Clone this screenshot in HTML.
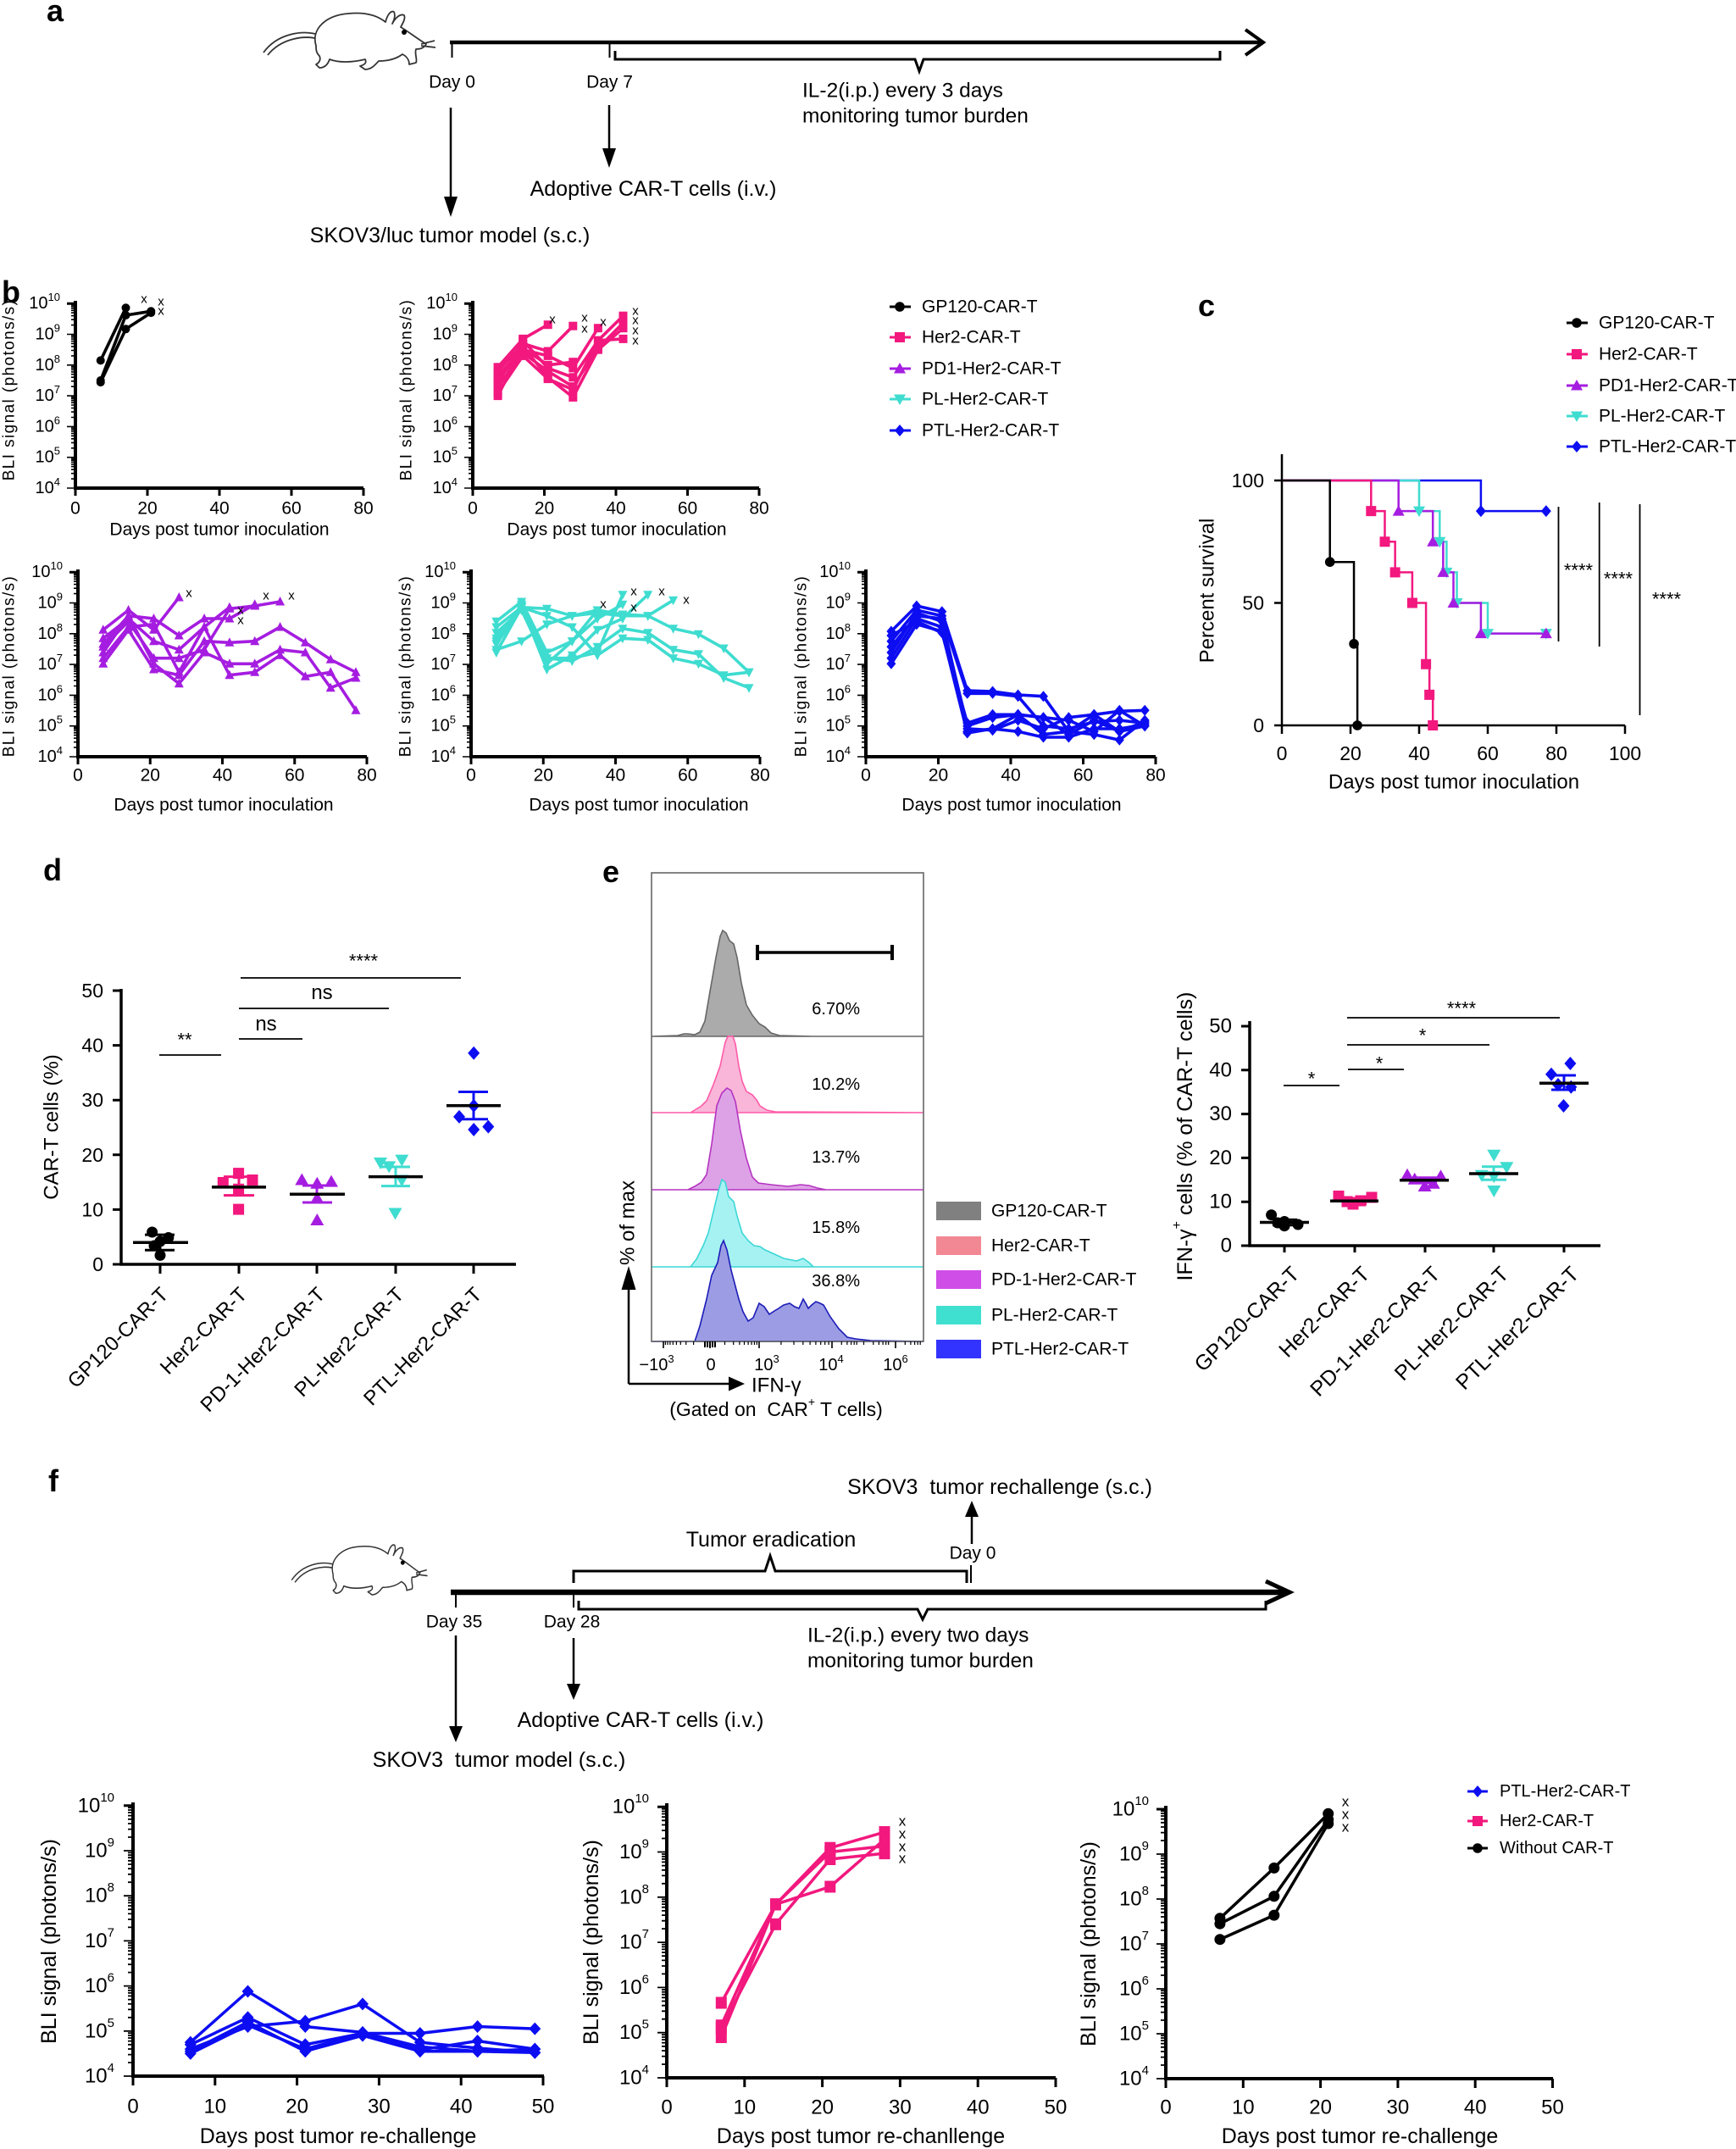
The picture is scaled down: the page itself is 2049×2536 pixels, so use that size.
<!DOCTYPE html>
<html><head><meta charset="utf-8"><style>
html,body{margin:0;padding:0;background:#fff;}
svg{display:block;}
text{font-family:"Liberation Sans",Arial,sans-serif;fill:#000;}
</style></head><body>
<svg width="2049" height="2536" viewBox="0 0 2049 2536" xmlns="http://www.w3.org/2000/svg">
<defs>
<marker id="mkCs" markerUnits="userSpaceOnUse" markerWidth="12" markerHeight="12" viewBox="0 0 12 12" refX="6" refY="6" overflow="visible"><circle cx="6" cy="6" r="5" fill="#000"/></marker>
<marker id="mkSs" markerUnits="userSpaceOnUse" markerWidth="12" markerHeight="12" viewBox="0 0 12 12" refX="6" refY="6" overflow="visible"><rect x="1" y="1" width="10" height="10" fill="#f2187e"/></marker>
<marker id="mkTUs" markerUnits="userSpaceOnUse" markerWidth="12" markerHeight="12" viewBox="0 0 12 12" refX="6" refY="6" overflow="visible"><path d="M6,0 L11.5,10.5 L0.5,10.5Z" fill="#a51de0"/></marker>
<marker id="mkTDs" markerUnits="userSpaceOnUse" markerWidth="12" markerHeight="12" viewBox="0 0 12 12" refX="6" refY="6" overflow="visible"><path d="M6,12 L11.5,1.5 L0.5,1.5Z" fill="#3fdcd0"/></marker>
<marker id="mkDs" markerUnits="userSpaceOnUse" markerWidth="12" markerHeight="12" viewBox="0 0 12 12" refX="6" refY="6" overflow="visible"><path d="M6,-0.5 L11.5,6 L6,12.5 L0.5,6Z" fill="#0d0df2"/></marker>
<marker id="mkCl" markerUnits="userSpaceOnUse" markerWidth="16" markerHeight="16" viewBox="0 0 16 16" refX="8" refY="8" overflow="visible"><circle cx="8" cy="8" r="6.5" fill="#000"/></marker>
<marker id="mkSl" markerUnits="userSpaceOnUse" markerWidth="16" markerHeight="16" viewBox="0 0 16 16" refX="8" refY="8" overflow="visible"><rect x="1.5" y="1" width="13" height="14" fill="#f2187e"/></marker>
<marker id="mkDl" markerUnits="userSpaceOnUse" markerWidth="16" markerHeight="16" viewBox="0 0 16 16" refX="8" refY="8" overflow="visible"><path d="M8,0.5 L15,8 L8,15.5 L1,8Z" fill="#0d0df2"/></marker>

<g id="cM"><circle r="5.8"/></g>
<g id="sM"><rect x="-6" y="-6" width="12" height="12"/></g>
<g id="tuM"><path d="M0,-7 L7,5.5 L-7,5.5Z"/></g>
<g id="tdM"><path d="M0,7 L7,-5.5 L-7,-5.5Z"/></g>
<g id="dM"><path d="M0,-7 L6,0 L0,7 L-6,0Z"/></g>
<g id="cL"><circle r="6.5"/></g>
<g id="sL"><rect x="-6.5" y="-6.5" width="13" height="13"/></g>
<g id="tuL"><path d="M0,-8 L8,6 L-8,6Z"/></g>
<g id="tdL"><path d="M0,8 L8,-6 L-8,-6Z"/></g>
<g id="dL"><path d="M0,-8 L7,0 L0,8 L-7,0Z"/></g>

<g id="decB"><path d="M-5,-10.9H0M-5,-17.3H0M-5,-21.9H0M-5,-25.4H0M-5,-28.2H0M-5,-30.7H0M-5,-32.8H0M-5,-34.6H0M-10,0H0" stroke="#000" stroke-width="1.6" fill="none"/></g>
<g id="decF"><path d="M-6,-16H0M-6,-25.4H0M-6,-32H0M-6,-37.2H0M-6,-41.4H0M-6,-45H0M-6,-48H0M-6,-50.8H0M-11,0H0" stroke="#000" stroke-width="1.8" fill="none"/></g>

<g id="mouse" fill="#fff" stroke="#333" stroke-width="1.8" stroke-linejoin="round">
<path d="M72,32 C50,24 20,30 4,52 M72,37 C52,30 24,36 9,55" fill="none"/>
<path d="M66,44 C60,24 78,8 104,6 C124,4 138,8 148,16 C150,8 154,2 158,4 C160,8 158,14 156,18 C160,10 166,6 170,8 C172,12 168,18 166,22 C176,28 186,36 196,42 C194,46 190,48 184,48 C182,54 186,60 184,64 L176,66 C176,60 172,56 168,54 C160,60 150,62 140,62 C136,66 132,72 124,72 L118,68 C124,66 126,64 124,60 C108,64 92,64 82,60 C80,66 76,70 70,70 L66,66 C70,64 72,60 70,56 C66,52 66,48 66,44 Z"/>
<circle cx="170" cy="28" r="3" fill="#000" stroke="none"/>
<path d="M190,42 L206,38 M190,44 L207,46" fill="none"/>
</g>
</defs>
<rect width="2049" height="2536" fill="#fff"/>

<!-- ================= PANEL A ================= -->
<text x="55" y="25" font-size="36" font-weight="bold">a</text>
<use href="#mouse" transform="translate(307,10)"/>
<line x1="531" y1="50" x2="1490" y2="50" stroke="#000" stroke-width="4.5"/>
<path d="M1470,35 L1491,50 L1470,65" fill="none" stroke="#000" stroke-width="4"/>
<path d="M533.5,50V68 M719.5,50V68" stroke="#000" stroke-width="2"/>
<path d="M726,60 V70 H1080 L1085,84 L1090,70 H1440 V60" fill="none" stroke="#000" stroke-width="3"/>
<g font-size="21" text-anchor="middle" dominant-baseline="central">
<text x="533.5" y="97">Day 0</text>
<text x="719.5" y="97">Day 7</text>
</g>
<g font-size="24.5" dominant-baseline="central">
<text x="947" y="107">IL-2(i.p.) every 3 days</text>
<text x="947" y="137">monitoring tumor burden</text>
</g>
<line x1="532" y1="127" x2="532" y2="236" stroke="#000" stroke-width="2.5"/>
<path d="M524,232 L540,232 L532,256Z" fill="#000"/>
<line x1="719" y1="124" x2="719" y2="178" stroke="#000" stroke-width="2.5"/>
<path d="M711,175 L727,175 L719,198Z" fill="#000"/>
<g font-size="25" text-anchor="middle" dominant-baseline="central">
<text x="771" y="223">Adoptive CAR-T cells (i.v.)</text>
<text x="531" y="278">SKOV3/luc tumor model (s.c.)</text>
</g>

<!-- ================= PANEL B ================= -->
<text x="2" y="357" font-size="36" font-weight="bold">b</text>

<g fill="none" stroke="#000" stroke-width="4">
<path d="M89,355 V576 H429"/>
<path d="M558,355 V576 H896"/>
<path d="M92,672 V893 H433"/>
<path d="M556,672 V893 H897"/>
<path d="M1022,672 V893 H1364"/>
</g>
<g stroke="#000" stroke-width="3">
<path d="M89,576V585M174,576V585M259,576V585M344,576V585M429,576V585"/>
<path d="M558,576V585M642.5,576V585M727,576V585M811.5,576V585M896,576V585"/>
<path d="M92,893V902M177.25,893V902M262.5,893V902M347.75,893V902M433,893V902"/>
<path d="M556,893V902M641.25,893V902M726.5,893V902M811.75,893V902M897,893V902"/>
<path d="M1022,893V902M1107.5,893V902M1193,893V902M1278.5,893V902M1364,893V902"/>
<path d="M79,358.2H89M548,358.2H558M82,675.2H92M546,675.2H556M1012,675.2H1022"/>
</g>
<use href="#decB" x="89" y="576"/><use href="#decB" x="89" y="539.7"/><use href="#decB" x="89" y="503.4"/><use href="#decB" x="89" y="467.1"/><use href="#decB" x="89" y="430.8"/><use href="#decB" x="89" y="394.5"/>
<use href="#decB" x="558" y="576"/><use href="#decB" x="558" y="539.7"/><use href="#decB" x="558" y="503.4"/><use href="#decB" x="558" y="467.1"/><use href="#decB" x="558" y="430.8"/><use href="#decB" x="558" y="394.5"/>
<use href="#decB" x="92" y="893"/><use href="#decB" x="92" y="856.7"/><use href="#decB" x="92" y="820.4"/><use href="#decB" x="92" y="784.1"/><use href="#decB" x="92" y="747.8"/><use href="#decB" x="92" y="711.5"/>
<use href="#decB" x="556" y="893"/><use href="#decB" x="556" y="856.7"/><use href="#decB" x="556" y="820.4"/><use href="#decB" x="556" y="784.1"/><use href="#decB" x="556" y="747.8"/><use href="#decB" x="556" y="711.5"/>
<use href="#decB" x="1022" y="893"/><use href="#decB" x="1022" y="856.7"/><use href="#decB" x="1022" y="820.4"/><use href="#decB" x="1022" y="784.1"/><use href="#decB" x="1022" y="747.8"/><use href="#decB" x="1022" y="711.5"/>

<g font-size="20" text-anchor="end" dominant-baseline="central">
<text x="71" y="358.2">10<tspan font-size="13" dy="-8">10</tspan></text>
<text x="71" y="394.5">10<tspan font-size="13" dy="-8">9</tspan></text>
<text x="71" y="430.8">10<tspan font-size="13" dy="-8">8</tspan></text>
<text x="71" y="467.1">10<tspan font-size="13" dy="-8">7</tspan></text>
<text x="71" y="503.4">10<tspan font-size="13" dy="-8">6</tspan></text>
<text x="71" y="539.7">10<tspan font-size="13" dy="-8">5</tspan></text>
<text x="71" y="576">10<tspan font-size="13" dy="-8">4</tspan></text>
<text x="540" y="358.2">10<tspan font-size="13" dy="-8">10</tspan></text>
<text x="540" y="394.5">10<tspan font-size="13" dy="-8">9</tspan></text>
<text x="540" y="430.8">10<tspan font-size="13" dy="-8">8</tspan></text>
<text x="540" y="467.1">10<tspan font-size="13" dy="-8">7</tspan></text>
<text x="540" y="503.4">10<tspan font-size="13" dy="-8">6</tspan></text>
<text x="540" y="539.7">10<tspan font-size="13" dy="-8">5</tspan></text>
<text x="540" y="576">10<tspan font-size="13" dy="-8">4</tspan></text>
<text x="74" y="675.2">10<tspan font-size="13" dy="-8">10</tspan></text>
<text x="74" y="711.5">10<tspan font-size="13" dy="-8">9</tspan></text>
<text x="74" y="747.8">10<tspan font-size="13" dy="-8">8</tspan></text>
<text x="74" y="784.1">10<tspan font-size="13" dy="-8">7</tspan></text>
<text x="74" y="820.4">10<tspan font-size="13" dy="-8">6</tspan></text>
<text x="74" y="856.7">10<tspan font-size="13" dy="-8">5</tspan></text>
<text x="74" y="893">10<tspan font-size="13" dy="-8">4</tspan></text>
<text x="538" y="675.2">10<tspan font-size="13" dy="-8">10</tspan></text>
<text x="538" y="711.5">10<tspan font-size="13" dy="-8">9</tspan></text>
<text x="538" y="747.8">10<tspan font-size="13" dy="-8">8</tspan></text>
<text x="538" y="784.1">10<tspan font-size="13" dy="-8">7</tspan></text>
<text x="538" y="820.4">10<tspan font-size="13" dy="-8">6</tspan></text>
<text x="538" y="856.7">10<tspan font-size="13" dy="-8">5</tspan></text>
<text x="538" y="893">10<tspan font-size="13" dy="-8">4</tspan></text>
<text x="1004" y="675.2">10<tspan font-size="13" dy="-8">10</tspan></text>
<text x="1004" y="711.5">10<tspan font-size="13" dy="-8">9</tspan></text>
<text x="1004" y="747.8">10<tspan font-size="13" dy="-8">8</tspan></text>
<text x="1004" y="784.1">10<tspan font-size="13" dy="-8">7</tspan></text>
<text x="1004" y="820.4">10<tspan font-size="13" dy="-8">6</tspan></text>
<text x="1004" y="856.7">10<tspan font-size="13" dy="-8">5</tspan></text>
<text x="1004" y="893">10<tspan font-size="13" dy="-8">4</tspan></text>
</g>
<g font-size="21" text-anchor="middle" dominant-baseline="central">
<text x="89" y="600">0</text><text x="174" y="600">20</text><text x="259" y="600">40</text><text x="344" y="600">60</text><text x="429" y="600">80</text>
<text x="558" y="600">0</text><text x="642.5" y="600">20</text><text x="727" y="600">40</text><text x="811.5" y="600">60</text><text x="896" y="600">80</text>
<text x="92" y="915">0</text><text x="177.25" y="915">20</text><text x="262.5" y="915">40</text><text x="347.75" y="915">60</text><text x="433" y="915">80</text>
<text x="556" y="915">0</text><text x="641.25" y="915">20</text><text x="726.5" y="915">40</text><text x="811.75" y="915">60</text><text x="897" y="915">80</text>
<text x="1022" y="915">0</text><text x="1107.5" y="915">20</text><text x="1193" y="915">40</text><text x="1278.5" y="915">60</text><text x="1364" y="915">80</text>
<text x="259" y="625">Days post tumor inoculation</text>
<text x="728" y="625">Days post tumor inoculation</text>
<text x="264" y="950">Days post tumor inoculation</text>
<text x="754" y="950">Days post tumor inoculation</text>
<text x="1194" y="950">Days post tumor inoculation</text>
</g>
<g font-size="19" letter-spacing="1.4" text-anchor="middle" dominant-baseline="central">
<text transform="translate(11,460) rotate(-90)">BLI signal (photons/s)</text>
<text transform="translate(480,460) rotate(-90)">BLI signal (photons/s)</text>
<text transform="translate(11,786) rotate(-90)">BLI signal (photons/s)</text>
<text transform="translate(479,786) rotate(-90)">BLI signal (photons/s)</text>
<text transform="translate(946,786) rotate(-90)">BLI signal (photons/s)</text>
</g>

<g fill="none" stroke="#000" stroke-width="3.6" stroke-linejoin="round" marker-start="url(#mkCs)" marker-mid="url(#mkCs)" marker-end="url(#mkCs)">
<polyline points="118.75,425.4 148.5,363.3"/>
<polyline points="118.75,449 148.5,372 178.25,367.3"/>
<polyline points="118.75,451.1 148.5,388.3 178.25,369.1"/>
</g>
<g fill="none" stroke="#f2187e" stroke-width="3.6" stroke-linejoin="round" marker-start="url(#mkSs)" marker-mid="url(#mkSs)" marker-end="url(#mkSs)">
<polyline points="587.6,433.3 617.2,399.9 646.7,383.2"/>
<polyline points="587.6,438.1 617.2,405.4 646.7,414.5 676.3,384.7"/>
<polyline points="587.6,443.5 617.2,410.8 646.7,430.8 676.3,427.2"/>
<polyline points="587.6,448.9 617.2,412.7 646.7,419.9 676.3,434.4 705.9,387.2"/>
<polyline points="587.6,452.6 617.2,401.8 646.7,434.4 676.3,445.3 705.9,401.8 735.5,372.7"/>
<polyline points="587.6,456.2 617.2,416.3 646.7,438.1 676.3,456.2 705.9,410.8 735.5,381.1"/>
<polyline points="587.6,467.1 617.2,409 646.7,445.3 676.3,468.9 705.9,412.7 735.5,387.2"/>
<polyline points="587.6,463.5 617.2,419.9 646.7,447.1 676.3,459.8 705.9,401.8 735.5,399.9"/>
</g>
<g fill="none" stroke="#a51de0" stroke-width="3.6" stroke-linejoin="round" marker-start="url(#mkTUs)" marker-mid="url(#mkTUs)" marker-end="url(#mkTUs)">
<polyline points="121.8,743.3 151.6,720 181.5,743.3 211.3,705"/>
<polyline points="121.8,753.3 151.6,730 181.5,756.7 211.3,766.7 241.1,740 270.9,716.7"/>
<polyline points="121.8,763.3 151.6,733.3 181.5,776.7 211.3,776.7 241.1,766.7 270.9,718.3 300.7,715 330.6,710"/>
<polyline points="121.8,760 151.6,726.7 181.5,730 211.3,750 241.1,730 270.9,730 300.7,713.3"/>
<polyline points="121.8,783.3 151.6,743.3 181.5,790 211.3,796.7 241.1,756.7 270.9,758.3 300.7,756.7 330.6,740 360.4,758.3 390.2,778.3 420,793.3"/>
<polyline points="121.8,770 151.6,726.7 181.5,783.3 211.3,806.7 241.1,770 270.9,783.3 300.7,783.3 330.6,766.7 360.4,770 390.2,811.7 420,800"/>
<polyline points="121.8,776.7 151.6,740 181.5,736.7 211.3,793.3 241.1,740 270.9,796.7 300.7,793.3 330.6,773.3 360.4,798.3 390.2,793.3 420,838.3"/>
</g>
<g fill="none" stroke="#3fdcd0" stroke-width="3.6" stroke-linejoin="round" marker-start="url(#mkTDs)" marker-mid="url(#mkTDs)" marker-end="url(#mkTDs)">
<polyline points="585.8,733.3 615.6,710 645.5,770 675.3,756.7 705.1,720"/>
<polyline points="585.8,740 615.6,716.7 645.5,776.7 675.3,776.7 705.1,770 734.9,701.7"/>
<polyline points="585.8,746.7 615.6,720 645.5,783.3 675.3,756.7 705.1,730 734.9,713.3"/>
<polyline points="585.8,753.3 615.6,715 645.5,790 675.3,773.3 705.1,743.3 734.9,730 764.7,701.7"/>
<polyline points="585.8,766.7 615.6,756.7 645.5,736.7 675.3,726.7 705.1,723.3 734.9,726.7 764.7,726.7 794.6,708.3"/>
<polyline points="585.8,760 615.6,716.7 645.5,718.3 675.3,726.7 705.1,720 734.9,725 764.7,726.7 794.6,741.7 824.4,748.3 854.2,765 884,793.3"/>
<polyline points="585.8,756.7 615.6,713.3 645.5,776.7 675.3,780 705.1,763.3 734.9,741.7 764.7,746.7 794.6,766.7 824.4,771.7 854.2,800 884,811.7"/>
<polyline points="585.8,770 615.6,716.7 645.5,726.7 675.3,740 705.1,773.3 734.9,753.3 764.7,755 794.6,776.7 824.4,783.3 854.2,796.7 884,793.3"/>
</g>
<g fill="none" stroke="#0d0df2" stroke-width="3.6" stroke-linejoin="round" marker-start="url(#mkDs)" marker-mid="url(#mkDs)" marker-end="url(#mkDs)">
<polyline points="1051.9,745 1081.9,715 1111.8,721.7 1141.7,815 1171.6,816 1201.6,820 1231.5,821.7 1261.4,863.3 1291.3,843.3 1321.3,839.3 1351.2,838.3"/>
<polyline points="1051.9,756.7 1081.9,720 1111.8,726.7 1141.7,818.3 1171.6,818.3 1201.6,821.7 1231.5,856.7 1261.4,860 1291.3,851.7 1321.3,850 1351.2,853.3"/>
<polyline points="1051.9,770 1081.9,723.3 1111.8,733.3 1141.7,856.7 1171.6,846.7 1201.6,843.3 1231.5,846.7 1261.4,850 1291.3,863.3 1321.3,838.3 1351.2,856.7"/>
<polyline points="1051.9,776.7 1081.9,730 1111.8,740 1141.7,863.3 1171.6,860 1201.6,863.3 1231.5,870 1261.4,870 1291.3,860 1321.3,860 1351.2,855"/>
<polyline points="1051.9,783.3 1081.9,736.7 1111.8,745 1141.7,865 1171.6,860 1201.6,843.3 1231.5,866.7 1261.4,863.3 1291.3,866.7 1321.3,873.3 1351.2,850"/>
<polyline points="1051.9,763.3 1081.9,726.7 1111.8,730 1141.7,860 1171.6,861.7 1201.6,850 1231.5,860 1261.4,846.7 1291.3,843.3 1321.3,863.3 1351.2,851.7"/>
<polyline points="1051.9,750 1081.9,733.3 1111.8,746.7 1141.7,853.3 1171.6,843.3 1201.6,843.3 1231.5,846.7 1261.4,866.7 1291.3,850 1321.3,863.3 1351.2,856.7"/>
</g>
<g font-size="15" text-anchor="middle" dominant-baseline="central">
<text x="170" y="353">x</text><text x="190" y="356">x</text><text x="190" y="367">x</text>
<text x="652" y="377">x</text><text x="690" y="375">x</text><text x="690" y="388">x</text><text x="712" y="380">x</text>
<text x="750" y="367">x</text><text x="750" y="378">x</text><text x="750" y="390">x</text><text x="750" y="402">x</text>
<text x="223" y="700">x</text><text x="284" y="720">x</text><text x="284" y="732">x</text><text x="314" y="703">x</text><text x="344" y="703">x</text>
<text x="712" y="713">x</text><text x="748" y="698">x</text><text x="748" y="717">x</text><text x="781" y="698">x</text><text x="810" y="708">x</text>
</g>
<g stroke-width="3">
<line x1="1050" y1="362" x2="1075" y2="362" stroke="#000"/>
<line x1="1050" y1="398" x2="1075" y2="398" stroke="#f2187e"/>
<line x1="1050" y1="435" x2="1075" y2="435" stroke="#a51de0"/>
<line x1="1050" y1="471" x2="1075" y2="471" stroke="#3fdcd0"/>
<line x1="1050" y1="508" x2="1075" y2="508" stroke="#0d0df2"/>
</g>
<use href="#cM" x="1062" y="362" fill="#000"/>
<use href="#sM" x="1062" y="398" fill="#f2187e"/>
<use href="#tuM" x="1062" y="435" fill="#a51de0"/>
<use href="#tdM" x="1062" y="471" fill="#3fdcd0"/>
<use href="#dM" x="1062" y="508" fill="#0d0df2"/>
<g font-size="21" dominant-baseline="central">
<text x="1088" y="362">GP120-CAR-T</text>
<text x="1088" y="398">Her2-CAR-T</text>
<text x="1088" y="435">PD1-Her2-CAR-T</text>
<text x="1088" y="471">PL-Her2-CAR-T</text>
<text x="1088" y="508">PTL-Her2-CAR-T</text>
</g>

<!-- ================= PANEL C ================= -->
<text x="1414" y="373" font-size="36" font-weight="bold">c</text>
<g stroke-width="3">
<line x1="1849" y1="381" x2="1874" y2="381" stroke="#000"/>
<line x1="1849" y1="418" x2="1874" y2="418" stroke="#f2187e"/>
<line x1="1849" y1="455" x2="1874" y2="455" stroke="#a51de0"/>
<line x1="1849" y1="491" x2="1874" y2="491" stroke="#3fdcd0"/>
<line x1="1849" y1="527" x2="1874" y2="527" stroke="#0d0df2"/>
</g>
<use href="#cM" x="1861" y="381" fill="#000"/>
<use href="#sM" x="1861" y="418" fill="#f2187e"/>
<use href="#tuM" x="1861" y="455" fill="#a51de0"/>
<use href="#tdM" x="1861" y="491" fill="#3fdcd0"/>
<use href="#dM" x="1861" y="527" fill="#0d0df2"/>
<g font-size="21" dominant-baseline="central">
<text x="1887" y="381">GP120-CAR-T</text>
<text x="1887" y="418">Her2-CAR-T</text>
<text x="1887" y="455">PD1-Her2-CAR-T</text>
<text x="1887" y="491">PL-Her2-CAR-T</text>
<text x="1887" y="527">PTL-Her2-CAR-T</text>
</g>
<path d="M1513,536 V856 H1918" fill="none" stroke="#000" stroke-width="2.5"/>
<path d="M1504,567H1513M1504,711.5H1513M1504,856H1513M1513,856V866M1594,856V866M1675,856V866M1756,856V866M1837,856V866M1918,856V866" stroke="#000" stroke-width="2.5"/>
<g font-size="23" text-anchor="end" dominant-baseline="central">
<text x="1492" y="567">100</text><text x="1492" y="711.5">50</text><text x="1492" y="856">0</text>
</g>
<g font-size="23" text-anchor="middle" dominant-baseline="central">
<text x="1513" y="889">0</text><text x="1594" y="889">20</text><text x="1675" y="889">40</text><text x="1756" y="889">60</text><text x="1837" y="889">80</text><text x="1918" y="889">100</text>
<text x="1716" y="923" font-size="24">Days post tumor inoculation</text>
<text transform="translate(1425,697) rotate(-90)" font-size="24">Percent survival</text>
</g>
<g fill="none" stroke-width="2.5">
<path d="M1513,567 H1747.9 V603.1 H1824.85" stroke="#0d0df2"/>
<path d="M1513,567 H1675 V603.1 H1699.3 V639.25 H1707.4 V675.4 H1719.55 V711.5 H1756 V747.6 H1824.85" stroke="#3fdcd0"/>
<path d="M1513,567 H1650.7 V603.1 H1691.2 V639.25 H1703.35 V675.4 H1715.5 V711.5 H1747.9 V747.6 H1824.85" stroke="#a51de0"/>
<path d="M1513,567 H1618.3 V603.1 H1634.5 V639.25 H1646.65 V675.4 H1666.9 V711.5 H1683.1 V783.75 H1687.15 V819.9 H1691.2 V856" stroke="#f2187e"/>
<path d="M1513,567 H1569.7 V663.2 H1598.05 V759.8 H1602.1 V856" stroke="#000"/>
</g>
<g fill="#0d0df2"><use href="#dM" x="1747.9" y="603.1"/><use href="#dM" x="1824.85" y="603.1"/></g>
<g fill="#3fdcd0"><use href="#tdM" x="1675" y="603.1"/><use href="#tdM" x="1699.3" y="639.25"/><use href="#tdM" x="1707.4" y="675.4"/><use href="#tdM" x="1719.55" y="711.5"/><use href="#tdM" x="1756" y="747.6"/><use href="#tdM" x="1824.85" y="747.6"/></g>
<g fill="#a51de0"><use href="#tuM" x="1650.7" y="603.1"/><use href="#tuM" x="1691.2" y="639.25"/><use href="#tuM" x="1703.35" y="675.4"/><use href="#tuM" x="1715.5" y="711.5"/><use href="#tuM" x="1747.9" y="747.6"/><use href="#tuM" x="1824.85" y="747.6"/></g>
<g fill="#f2187e"><use href="#sM" x="1618.3" y="603.1"/><use href="#sM" x="1634.5" y="639.25"/><use href="#sM" x="1646.65" y="675.4"/><use href="#sM" x="1666.9" y="711.5"/><use href="#sM" x="1683.1" y="783.75"/><use href="#sM" x="1687.15" y="819.9"/><use href="#sM" x="1691.2" y="856"/></g>
<g fill="#000"><use href="#cM" x="1569.7" y="663.2"/><use href="#cM" x="1598.05" y="759.8"/><use href="#cM" x="1602.1" y="856"/></g>
<path d="M1839.5,598V757M1887.7,593V763M1935.5,595V844" stroke="#000" stroke-width="1.8"/>
<g font-size="22" text-anchor="middle">
<text x="1863" y="680.5">****</text><text x="1910" y="690.5">****</text><text x="1967" y="714.5">****</text>
</g>

<!-- ================= PANEL D ================= -->
<text x="51" y="1039" font-size="36" font-weight="bold">d</text>
<path d="M143,1167 V1492 H609" fill="none" stroke="#000" stroke-width="3.5"/>
<path d="M133,1492H143M133,1427.4H143M133,1362.8H143M133,1298.2H143M133,1233.6H143M133,1169H143M189,1492V1503M282,1492V1503M374,1492V1503M467,1492V1503M559,1492V1503" stroke="#000" stroke-width="3"/>
<g font-size="23" text-anchor="end" dominant-baseline="central">
<text x="122" y="1492">0</text><text x="122" y="1427.4">10</text><text x="122" y="1362.8">20</text><text x="122" y="1298.2">30</text><text x="122" y="1233.6">40</text><text x="122" y="1169">50</text>
</g>
<text transform="translate(61,1330) rotate(-90)" font-size="24" text-anchor="middle" dominant-baseline="central">CAR-T cells (%)</text>
<g font-size="24" text-anchor="end">
<text transform="translate(200,1529) rotate(-45)">GP120-CAR-T</text>
<text transform="translate(293,1529) rotate(-45)">Her2-CAR-T</text>
<text transform="translate(385,1529) rotate(-45)">PD-1-Her2-CAR-T</text>
<text transform="translate(478,1529) rotate(-45)">PL-Her2-CAR-T</text>
<text transform="translate(570,1529) rotate(-45)">PTL-Her2-CAR-T</text>
</g>
<path d="M188,1245H261M282,1226H357M282,1190H459M284,1154H544" stroke="#000" stroke-width="1.8"/>
<g font-size="22" text-anchor="middle">
<text x="218" y="1234.5">**</text><text x="429" y="1141.5">****</text>
</g>
<g font-size="24" text-anchor="middle">
<text x="314" y="1216">ns</text><text x="380" y="1179">ns</text>
</g>
<g fill="#000"><use href="#cL" x="179.6" y="1454"/><use href="#cL" x="198.8" y="1460.5"/><use href="#cL" x="189" y="1481.4"/><use href="#cL" x="189" y="1465"/><use href="#cL" x="182" y="1470"/></g>
<g fill="#f2187e"><use href="#sL" x="263.3" y="1395.5"/><use href="#sL" x="281.6" y="1384.6"/><use href="#sL" x="298" y="1392.5"/><use href="#sL" x="281.6" y="1403.3"/><use href="#sL" x="281.6" y="1427.1"/></g>
<g fill="#a51de0"><use href="#tuL" x="356.3" y="1392.5"/><use href="#tuL" x="374.3" y="1396.8"/><use href="#tuL" x="391" y="1394.6"/><use href="#tuL" x="374.3" y="1414"/><use href="#tuL" x="374.3" y="1440"/></g>
<g fill="#3fdcd0"><use href="#tdL" x="449" y="1372"/><use href="#tdL" x="459.2" y="1376.4"/><use href="#tdL" x="474.3" y="1368.6"/><use href="#tdL" x="474.3" y="1392.5"/><use href="#tdL" x="466.5" y="1431.5"/></g>
<g fill="#0d0df2"><use href="#dL" x="559.2" y="1242.8"/><use href="#dL" x="559.2" y="1304.9"/><use href="#dL" x="542" y="1317.9"/><use href="#dL" x="576.3" y="1329.6"/><use href="#dL" x="559.2" y="1333"/></g>
<g fill="none" stroke-width="3">
<path d="M189,1457.1V1475.2M171,1457.1H206M171,1475.2H206" stroke="#000"/>
<path d="M282,1388.6V1410.6M264,1388.6H300M264,1410.6H300" stroke="#f2187e"/>
<path d="M374,1399V1419M357,1399H392M357,1419H392" stroke="#a51de0"/>
<path d="M467,1377V1399.6M450,1377H484M450,1399.6H484" stroke="#3fdcd0"/>
<path d="M559,1288.5V1320.8M541,1288.5H576M541,1320.8H576" stroke="#0d0df2"/>
<path d="M157,1466.2H222M250,1400.9H314M342,1409.3H407M435,1388.6H499M527,1304.7H591" stroke="#000" stroke-width="3.5"/>
</g>

<!-- ================= PANEL E (histograms) ================= -->
<text x="711" y="1041" font-size="36" font-weight="bold">e</text>
<path d="M769,1223 L800,1222 L807,1220 L812,1220 L820,1221 L826,1218 L832,1205 L838,1170 L845,1130 L850,1105 L853,1098 L857,1101 L861,1110 L866,1114 L870,1130 L875,1160 L881,1186 L888,1198 L896,1208 L903,1212 L910,1219 L920,1222 L960,1223 L1090,1223 Z" fill="#ababab" stroke="#666" stroke-width="1.6"/>
<path d="M769,1313 L815,1313 L820,1310 L828,1305 L834,1299 L842,1280 L850,1258 L856,1230 L859,1223 L865,1223 L868,1232 L872,1258 L876,1276 L881,1288 L888,1292 L893,1298 L897,1305 L905,1310 L915,1312 L1090,1313 Z" fill="#f9b6d8" stroke="#ff5aa8" stroke-width="1.6"/>
<path d="M769,1404 L812,1404 L820,1400 L828,1395 L834,1386 L840,1350 L846,1305 L852,1290 L858,1284 L863,1287 L868,1300 L874,1335 L881,1367 L888,1389 L895,1396 L910,1398 L930,1400 L945,1398 L955,1399 L965,1402 L975,1404 L1090,1404 Z" fill="#dda2e6" stroke="#b534c0" stroke-width="1.6"/>
<path d="M769,1495 L815,1495 L822,1486 L830,1470 L836,1455 L842,1430 L848,1405 L852,1392 L856,1395 L860,1412 L866,1418 L870,1435 L876,1455 L883,1464 L890,1470 L897,1471 L903,1475 L912,1479 L925,1485 L940,1488 L948,1485 L955,1490 L960,1495 L1090,1495 Z" fill="#a6f2f2" stroke="#3cd6d6" stroke-width="1.6"/>
<path d="M769,1583 L820,1583 L826,1565 L834,1533 L840,1505 L847,1490 L851,1470 L854,1464 L858,1475 L863,1499 L868,1518 L872,1533 L877,1548 L883,1559 L889,1555 L896,1538 L902,1542 L908,1551 L914,1547 L919,1544 L925,1540 L932,1538 L938,1542 L943,1544 L948,1533 L951,1538 L954,1544 L958,1540 L963,1536 L968,1538 L972,1540 L980,1554 L990,1568 L1000,1578 L1010,1580 L1028,1582 L1090,1583 Z" fill="#9c9ce4" stroke="#1c1cb8" stroke-width="1.6"/>
<rect x="769" y="1030" width="321" height="553" fill="none" stroke="#666" stroke-width="1.6"/>
<path d="M894,1124H1053" stroke="#000" stroke-width="3.5"/>
<path d="M894,1115V1133M1053,1115V1133" stroke="#000" stroke-width="4"/>
<g font-size="20" text-anchor="end" dominant-baseline="central">
<text x="1015" y="1191">6.70%</text><text x="1015" y="1280">10.2%</text><text x="1015" y="1366">13.7%</text><text x="1015" y="1449">15.8%</text><text x="1015" y="1512">36.8%</text>
</g>
<path d="M783,1583V1591M838,1583V1591M896,1583V1591M982,1583V1591M1057,1583V1591" stroke="#000" stroke-width="1.6"/>
<path d="M785.4,1583V1587M788,1583V1587M790.9,1583V1587M794.3,1583V1587M798.4,1583V1587M803.3,1583V1587M809.7,1583V1587M818.6,1583V1587M855.5,1583V1587M865.7,1583V1587M872.9,1583V1587M878.5,1583V1587M883.1,1583V1587M887,1583V1587M890.4,1583V1587M893.3,1583V1587M921.9,1583V1587M937,1583V1587M947.8,1583V1587M956.1,1583V1587M962.9,1583V1587M968.7,1583V1587M973.7,1583V1587M978.1,1583V1587M993.3,1583V1587M999.9,1583V1587M1004.6,1583V1587M1008.2,1583V1587M1011.2,1583V1587M1019.5,1583V1587M1030.8,1583V1587M1037.4,1583V1587M1042.1,1583V1587M1045.7,1583V1587M1048.7,1583V1587M1068.3,1583V1587M1074.9,1583V1587M1079.6,1583V1587M1083.2,1583V1587M1086.2,1583V1587" stroke="#000" stroke-width="1.2"/>
<path d="M832,1583V1590M835,1583V1590M838,1583V1590M841,1583V1590M844,1583V1590" stroke="#000" stroke-width="2"/>
<g font-size="20" text-anchor="middle" dominant-baseline="central">
<text x="775" y="1611">−10<tspan font-size="13" dy="-8">3</tspan></text>
<text x="839" y="1611">0</text>
<text x="905" y="1611">10<tspan font-size="13" dy="-8">3</tspan></text>
<text x="981" y="1611">10<tspan font-size="13" dy="-8">4</tspan></text>
<text x="1057" y="1611">10<tspan font-size="13" dy="-8">6</tspan></text>
</g>
<path d="M742,1633V1518M742,1633H862" stroke="#000" stroke-width="2.5" fill="none"/>
<path d="M733.5,1522 L750.5,1522 L742,1494Z M860,1624.5 L860,1641.5 L879,1633Z" fill="#000"/>
<text transform="translate(741,1443) rotate(-90)" font-size="24" text-anchor="middle" dominant-baseline="central">% of max</text>
<text x="887" y="1635" font-size="24" dominant-baseline="central">IFN-γ</text>
<text x="916" y="1663" font-size="23" text-anchor="middle" dominant-baseline="central">(Gated on&#160; CAR<tspan font-size="14" dy="-9">+</tspan><tspan dy="9"> T cells)</tspan></text>
<rect x="1105" y="1418" width="53" height="22" fill="#808080"/>
<rect x="1105" y="1459" width="53" height="22" fill="#f28893"/>
<rect x="1105" y="1499" width="53" height="22" fill="#d04ee8"/>
<rect x="1105" y="1541" width="53" height="22" fill="#40e0d0"/>
<rect x="1105" y="1581" width="53" height="22" fill="#3333ff"/>
<g font-size="21" dominant-baseline="central">
<text x="1170" y="1429">GP120-CAR-T</text>
<text x="1170" y="1470">Her2-CAR-T</text>
<text x="1170" y="1510">PD-1-Her2-CAR-T</text>
<text x="1170" y="1552">PL-Her2-CAR-T</text>
<text x="1170" y="1592">PTL-Her2-CAR-T</text>
</g>

<!-- ================= PANEL E right ================= -->
<path d="M1475,1205 V1470 H1889" fill="none" stroke="#000" stroke-width="3.5"/>
<path d="M1465,1470H1475M1465,1418.2H1475M1465,1366.4H1475M1465,1314.6H1475M1465,1262.8H1475M1465,1211H1475M1516,1470V1478M1599,1470V1478M1682,1470V1478M1763,1470V1478M1846,1470V1478" stroke="#000" stroke-width="3"/>
<g font-size="24" text-anchor="end" dominant-baseline="central">
<text x="1454" y="1470">0</text><text x="1454" y="1418.2">10</text><text x="1454" y="1366.4">20</text><text x="1454" y="1314.6">30</text><text x="1454" y="1262.8">40</text><text x="1454" y="1211">50</text>
</g>
<text transform="translate(1399,1341) rotate(-90)" font-size="25" text-anchor="middle" dominant-baseline="central">IFN-γ<tspan font-size="16" dy="-10">+</tspan><tspan dy="10"> cells (% of CAR-T cells)</tspan></text>
<g font-size="25" text-anchor="end">
<text transform="translate(1535,1505) rotate(-45)">GP120-CAR-T</text>
<text transform="translate(1618,1505) rotate(-45)">Her2-CAR-T</text>
<text transform="translate(1701,1505) rotate(-45)">PD-1-Her2-CAR-T</text>
<text transform="translate(1782,1505) rotate(-45)">PL-Her2-CAR-T</text>
<text transform="translate(1865,1505) rotate(-45)">PTL-Her2-CAR-T</text>
</g>
<path d="M1515,1281H1581M1591,1262H1657M1590,1233H1758M1590,1201H1841" stroke="#000" stroke-width="1.8"/>
<g font-size="22" text-anchor="middle">
<text x="1548" y="1280.5">*</text><text x="1628" y="1262.5">*</text><text x="1679" y="1229.5">*</text><text x="1725" y="1197.5">****</text>
</g>
<g fill="#000"><use href="#cL" x="1500.6" y="1433.7"/><use href="#cL" x="1516" y="1441.5"/><use href="#cL" x="1516" y="1446.7"/><use href="#cL" x="1532" y="1445"/><use href="#cL" x="1508" y="1443"/></g>
<g fill="#f2187e"><use href="#sL" x="1580" y="1411.5"/><use href="#sL" x="1597" y="1421"/><use href="#sL" x="1619" y="1413"/><use href="#sL" x="1606" y="1417"/><use href="#sL" x="1590" y="1418"/></g>
<g fill="#a51de0"><use href="#tuL" x="1661" y="1386.7"/><use href="#tuL" x="1669.7" y="1391.7"/><use href="#tuL" x="1681.6" y="1400"/><use href="#tuL" x="1691.7" y="1396.7"/><use href="#tuL" x="1700.5" y="1388.3"/></g>
<g fill="#3fdcd0"><use href="#tdL" x="1763.3" y="1362.7"/><use href="#tdL" x="1778.3" y="1377.3"/><use href="#tdL" x="1748.8" y="1386.7"/><use href="#tdL" x="1763.3" y="1388.3"/><use href="#tdL" x="1763.3" y="1405"/></g>
<g fill="#0d0df2"><use href="#dL" x="1853.4" y="1255"/><use href="#dL" x="1831" y="1267.7"/><use href="#dL" x="1839" y="1280"/><use href="#dL" x="1854.3" y="1282.7"/><use href="#dL" x="1845.5" y="1305"/></g>
<g fill="none" stroke-width="3">
<path d="M1516,1439.4V1445.7M1502,1439.4H1531M1502,1445.7H1531" stroke="#000"/>
<path d="M1599,1414V1420.3M1584,1414H1613M1584,1420.3H1613" stroke="#f2187e"/>
<path d="M1682,1389.7V1395.9M1667,1389.7H1696M1667,1395.9H1696" stroke="#a51de0"/>
<path d="M1763,1376.8V1392.3M1749,1376.8H1778M1749,1392.3H1778" stroke="#3fdcd0"/>
<path d="M1846,1269V1286M1831,1269H1860M1831,1286H1860" stroke="#0d0df2"/>
<path d="M1487,1442.5H1545M1570,1417.2H1627M1652,1392.8H1710M1734,1385H1792M1817,1278.3H1875" stroke="#000" stroke-width="3.5"/>
</g>

<!-- ================= PANEL F timeline ================= -->
<text x="57" y="1760" font-size="36" font-weight="bold">f</text>
<use href="#mouse" transform="translate(341,1820) scale(0.79,0.86)"/>
<line x1="532" y1="1879" x2="1518" y2="1879" stroke="#000" stroke-width="6.5"/>
<path d="M1494,1866 L1522,1879 L1494,1892" fill="none" stroke="#000" stroke-width="5"/>
<path d="M538,1879V1897M677,1879V1897M1146,1847V1868" stroke="#000" stroke-width="2"/>
<path d="M677,1868 V1854 H903 L909,1836 L915,1854 H1141 V1868" fill="none" stroke="#000" stroke-width="3"/>
<path d="M683,1889 V1899 H1083 L1089,1911 L1095,1899 H1494 V1889" fill="none" stroke="#000" stroke-width="3"/>
<line x1="1147" y1="1822" x2="1147" y2="1786" stroke="#000" stroke-width="2.5"/>
<path d="M1139,1790 L1155,1790 L1147,1771Z" fill="#000"/>
<line x1="677" y1="1933" x2="677" y2="1990" stroke="#000" stroke-width="2.5"/>
<path d="M669,1987 L685,1987 L677,2006Z" fill="#000"/>
<line x1="538" y1="1930" x2="538" y2="2040" stroke="#000" stroke-width="2.5"/>
<path d="M530,2037 L546,2037 L538,2056Z" fill="#000"/>
<g font-size="25" text-anchor="middle" dominant-baseline="central">
<text x="1180" y="1755">SKOV3&#160; tumor rechallenge (s.c.)</text>
<text x="910" y="1817">Tumor eradication</text>
<text x="756" y="2030">Adoptive CAR-T cells (i.v.)</text>
<text x="589" y="2077">SKOV3&#160; tumor model (s.c.)</text>
</g>
<g font-size="21" text-anchor="middle" dominant-baseline="central">
<text x="1148" y="1833">Day 0</text>
<text x="536" y="1914">Day 35</text>
<text x="675" y="1914">Day 28</text>
</g>
<g font-size="24.5" dominant-baseline="central">
<text x="953" y="1930">IL-2(i.p.) every two days</text>
<text x="953" y="1960">monitoring tumor burden</text>
</g>

<!-- ================= PANEL F bottom plots ================= -->
<g fill="none" stroke="#000" stroke-width="4">
<path d="M157,2127 V2450 H642"/>
<path d="M787,2128 V2452 H1246"/>
<path d="M1376,2131 V2453 H1833"/>
</g>
<g stroke="#000" stroke-width="3">
<path d="M157,2450V2461M253.8,2450V2461M350.6,2450V2461M447.4,2450V2461M544.2,2450V2461M641,2450V2461"/>
<path d="M787,2452V2463M878.8,2452V2463M970.6,2452V2463M1062.4,2452V2463M1154.2,2452V2463M1246,2452V2463"/>
<path d="M1376,2453V2464M1467.3,2453V2464M1558.6,2453V2464M1649.9,2453V2464M1741.2,2453V2464M1832.5,2453V2464"/>
<path d="M146,2130.8H157M776,2132.2H787M1365,2135H1376"/>
</g>
<use href="#decF" x="157" y="2450"/><use href="#decF" x="157" y="2396.8"/><use href="#decF" x="157" y="2343.6"/><use href="#decF" x="157" y="2290.4"/><use href="#decF" x="157" y="2237.2"/><use href="#decF" x="157" y="2184"/>
<use href="#decF" x="787" y="2452"/><use href="#decF" x="787" y="2398.7"/><use href="#decF" x="787" y="2345.4"/><use href="#decF" x="787" y="2292.1"/><use href="#decF" x="787" y="2238.8"/><use href="#decF" x="787" y="2185.5"/>
<use href="#decF" x="1376" y="2453"/><use href="#decF" x="1376" y="2400"/><use href="#decF" x="1376" y="2347"/><use href="#decF" x="1376" y="2294"/><use href="#decF" x="1376" y="2241"/><use href="#decF" x="1376" y="2188"/>
<g font-size="24" text-anchor="end" dominant-baseline="central">
<text x="135" y="2130.8">10<tspan font-size="15" dy="-10">10</tspan></text>
<text x="135" y="2184">10<tspan font-size="15" dy="-10">9</tspan></text>
<text x="135" y="2237.2">10<tspan font-size="15" dy="-10">8</tspan></text>
<text x="135" y="2290.4">10<tspan font-size="15" dy="-10">7</tspan></text>
<text x="135" y="2343.6">10<tspan font-size="15" dy="-10">6</tspan></text>
<text x="135" y="2396.8">10<tspan font-size="15" dy="-10">5</tspan></text>
<text x="135" y="2450">10<tspan font-size="15" dy="-10">4</tspan></text>
<text x="766" y="2132.2">10<tspan font-size="15" dy="-10">10</tspan></text>
<text x="766" y="2185.5">10<tspan font-size="15" dy="-10">9</tspan></text>
<text x="766" y="2238.8">10<tspan font-size="15" dy="-10">8</tspan></text>
<text x="766" y="2292.1">10<tspan font-size="15" dy="-10">7</tspan></text>
<text x="766" y="2345.4">10<tspan font-size="15" dy="-10">6</tspan></text>
<text x="766" y="2398.7">10<tspan font-size="15" dy="-10">5</tspan></text>
<text x="766" y="2452">10<tspan font-size="15" dy="-10">4</tspan></text>
<text x="1356" y="2135">10<tspan font-size="15" dy="-10">10</tspan></text>
<text x="1356" y="2188">10<tspan font-size="15" dy="-10">9</tspan></text>
<text x="1356" y="2241">10<tspan font-size="15" dy="-10">8</tspan></text>
<text x="1356" y="2294">10<tspan font-size="15" dy="-10">7</tspan></text>
<text x="1356" y="2347">10<tspan font-size="15" dy="-10">6</tspan></text>
<text x="1356" y="2400">10<tspan font-size="15" dy="-10">5</tspan></text>
<text x="1356" y="2453">10<tspan font-size="15" dy="-10">4</tspan></text>
</g>
<g font-size="24" text-anchor="middle" dominant-baseline="central">
<text x="157" y="2486">0</text><text x="253.8" y="2486">10</text><text x="350.6" y="2486">20</text><text x="447.4" y="2486">30</text><text x="544.2" y="2486">40</text><text x="641" y="2486">50</text>
<text x="787" y="2487">0</text><text x="878.8" y="2487">10</text><text x="970.6" y="2487">20</text><text x="1062.4" y="2487">30</text><text x="1154.2" y="2487">40</text><text x="1246" y="2487">50</text>
<text x="1376" y="2487">0</text><text x="1467.3" y="2487">10</text><text x="1558.6" y="2487">20</text><text x="1649.9" y="2487">30</text><text x="1741.2" y="2487">40</text><text x="1832.5" y="2487">50</text>
</g>
<g font-size="25" text-anchor="middle" dominant-baseline="central">
<text x="399" y="2521">Days post tumor re-challenge</text>
<text x="1016" y="2521">Days post tumor re-chanllenge</text>
<text x="1605" y="2521">Days post tumor re-challenge</text>
<text transform="translate(58,2291) rotate(-90)">BLI signal (photons/s)</text>
<text transform="translate(698,2292) rotate(-90)">BLI signal (photons/s)</text>
<text transform="translate(1285,2294) rotate(-90)">BLI signal (photons/s)</text>
</g>
<g fill="none" stroke="#0d0df2" stroke-width="3.5" stroke-linejoin="round" marker-start="url(#mkDl)" marker-mid="url(#mkDl)" marker-end="url(#mkDl)">
<polyline points="224.8,2410.1 292.5,2350 360.3,2391.5 428,2398.4 495.8,2415.4 563.6,2420.7 631.3,2418.1"/>
<polyline points="224.8,2418.1 292.5,2391.5 360.3,2385.1 428,2364.9 495.8,2410.1 563.6,2417 631.3,2422.3"/>
<polyline points="224.8,2412.8 292.5,2380.8 360.3,2412.8 428,2399.5 495.8,2399.5 563.6,2391.5 631.3,2394.1"/>
<polyline points="224.8,2420.7 292.5,2386.2 360.3,2420.7 428,2402.1 495.8,2420.7 563.6,2420.7 631.3,2422.3"/>
<polyline points="224.8,2423.4 292.5,2389.9 360.3,2418.1 428,2399.5 495.8,2419.1 563.6,2408.5 631.3,2418.1"/>
</g>
<g fill="none" stroke="#f2187e" stroke-width="3.5" stroke-linejoin="round" marker-start="url(#mkSl)" marker-mid="url(#mkSl)" marker-end="url(#mkSl)">
<polyline points="851.3,2363.5 915.5,2247.3 979.8,2180.7 1044,2162"/>
<polyline points="851.3,2390.2 915.5,2247.3 979.8,2185.5 1044,2178.6"/>
<polyline points="851.3,2393.4 915.5,2270.8 979.8,2194 1044,2187.1"/>
<polyline points="851.3,2404 915.5,2247.3 979.8,2226.5 1044,2170.6"/>
</g>
<g fill="none" stroke="#000" stroke-width="3.5" stroke-linejoin="round" marker-start="url(#mkCl)" marker-mid="url(#mkCl)" marker-end="url(#mkCl)">
<polyline points="1439.9,2263.8 1503.8,2204.4 1567.7,2140.3"/>
<polyline points="1439.9,2270.2 1503.8,2237.8 1567.7,2147.2"/>
<polyline points="1439.9,2288.7 1503.8,2260.1 1567.7,2152"/>
</g>
<g font-size="17" text-anchor="middle" dominant-baseline="central">
<text x="1065" y="2149">x</text><text x="1065" y="2164">x</text><text x="1065" y="2179">x</text><text x="1065" y="2193">x</text>
<text x="1588" y="2126">x</text><text x="1588" y="2141">x</text><text x="1588" y="2156">x</text>
</g>
<g stroke-width="3">
<line x1="1732" y1="2114" x2="1756" y2="2114" stroke="#0d0df2"/>
<line x1="1732" y1="2149" x2="1756" y2="2149" stroke="#f2187e"/>
<line x1="1732" y1="2181" x2="1756" y2="2181" stroke="#000"/>
</g>
<use href="#dM" x="1744" y="2114" fill="#0d0df2"/>
<use href="#sM" x="1744" y="2149" fill="#f2187e"/>
<use href="#cM" x="1744" y="2181" fill="#000"/>
<g font-size="20" dominant-baseline="central">
<text x="1770" y="2114">PTL-Her2-CAR-T</text>
<text x="1770" y="2149">Her2-CAR-T</text>
<text x="1770" y="2181">Without CAR-T</text>
</g>
</svg>
</body></html>
